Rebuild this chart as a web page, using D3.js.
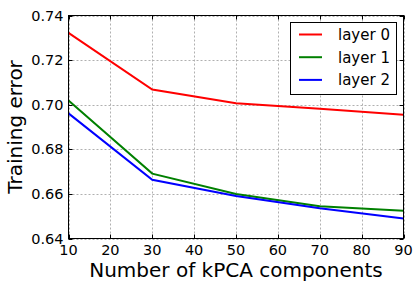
<html>
<head>
  <style>
    body { margin: 0; background: #fff; }
    text { font-family: "DejaVu Sans", sans-serif; }
  </style>
  <script src="https://d3js.org/d3.v7.min.js"></script>
</head>
<body>
<div id="chart"></div>
<script type="text/javascript">
var components = [10, 30, 50, 70, 90]
var layer0 = [0.7322, 0.7068, 0.7007, 0.6982, 0.6955]
var layer1 = [0.7019, 0.6691, 0.6600, 0.6545, 0.6524]
var layer2 = [0.6961, 0.6663, 0.6591, 0.6536, 0.6490]
var seriesNames = ["layer 0", "layer 1", "layer 2"]
var seriesColors = ["#ff0000", "#008000", "#0000ff"]
var xTicks = [10, 20, 30, 40, 50, 60, 70, 80, 90]
var yTicks = [0.64, 0.66, 0.68, 0.70, 0.72, 0.74]

var width = 419, height = 288
// plot box (note: "top" is reserved on window, so p_ prefix)
var p_left = 68.5, p_right = 403.5, p_top = 15.5, p_bottom = 238.5

var svg = d3.select("#chart").append("svg")
    .attr("width", width)
    .attr("height", height)

var x = d3.scaleLinear().domain([10, 90]).range([p_left, p_right])
var y = d3.scaleLinear().domain([0.64, 0.74]).range([p_bottom, p_top])

/* grid */
var grid = svg.append("g")
grid.selectAll(".gx").data(xTicks).enter().append("line")
    .attr("x1", d => Math.round(x(d)) + 0.5).attr("x2", d => Math.round(x(d)) + 0.5)
    .attr("y1", p_top).attr("y2", p_bottom)
    .attr("stroke", "#b0b0b0").attr("stroke-dasharray", "2,2")
grid.selectAll(".gy").data(yTicks).enter().append("line")
    .attr("y1", d => Math.round(y(d)) + 0.5).attr("y2", d => Math.round(y(d)) + 0.5)
    .attr("x1", p_left).attr("x2", p_right)
    .attr("stroke", "#b0b0b0").attr("stroke-dasharray", "2,2")

/* lines */
var data = [layer0, layer1, layer2]
var line = d3.line()
    .x((d, i) => x(components[i]))
    .y(d => y(d))
svg.selectAll(".series").data(data).enter().append("path")
    .attr("d", line)
    .attr("fill", "none")
    .attr("stroke", (d, i) => seriesColors[i])
    .attr("stroke-width", 2)

/* inward ticks on all sides */
var ticks = svg.append("g").attr("stroke", "black")
xTicks.forEach(function(t) {
  var px = Math.round(x(t)) + 0.5
  ticks.append("line").attr("x1", px).attr("x2", px).attr("y1", p_bottom).attr("y2", p_bottom - 4)
  ticks.append("line").attr("x1", px).attr("x2", px).attr("y1", p_top).attr("y2", p_top + 4)
})
yTicks.forEach(function(t) {
  var py = Math.round(y(t)) + 0.5
  ticks.append("line").attr("y1", py).attr("y2", py).attr("x1", p_left).attr("x2", p_left + 4)
  ticks.append("line").attr("y1", py).attr("y2", py).attr("x1", p_right).attr("x2", p_right - 4)
})

svg.append("rect")
    .attr("x", p_left).attr("y", p_top)
    .attr("width", p_right - p_left).attr("height", p_bottom - p_top)
    .attr("fill", "none").attr("stroke", "black")

/* tick labels */
svg.selectAll(".xl").data(xTicks).enter().append("text")
    .attr("x", d => x(d)).attr("y", p_bottom + 16)
    .attr("text-anchor", "middle")
    .attr("font-size", 14.5)
    .text(d => d)
svg.selectAll(".yl").data(yTicks).enter().append("text")
    .attr("x", p_left - 5).attr("y", d => y(d) + 5)
    .attr("text-anchor", "end")
    .attr("font-size", 14.5)
    .text(d => d.toFixed(2))

/* axis titles */
svg.append("text")
    .attr("x", (p_left + p_right) / 2).attr("y", 277)
    .attr("text-anchor", "middle")
    .attr("font-size", 20)
    .text("Number of kPCA components")
svg.append("text")
    .attr("transform", "translate(22," + ((p_top + p_bottom) / 2) + ") rotate(-90)")
    .attr("text-anchor", "middle")
    .attr("font-size", 20)
    .text("Training error")

/* legend */
var legend = svg.append("g")
legend.append("rect")
    .attr("x", 290.5).attr("y", 22.5).attr("width", 106).attr("height", 72)
    .attr("fill", "white").attr("stroke", "black")
seriesNames.forEach(function(name, i) {
  var ly = 34.5 + i * 22.7
  legend.append("line")
      .attr("x1", 299).attr("x2", 322).attr("y1", ly).attr("y2", ly)
      .attr("stroke", seriesColors[i]).attr("stroke-width", 2)
  legend.append("text")
      .attr("x", 338).attr("y", ly + 5.5)
      .attr("font-size", 15)
      .text(name)
})
</script>
</body>
</html>
